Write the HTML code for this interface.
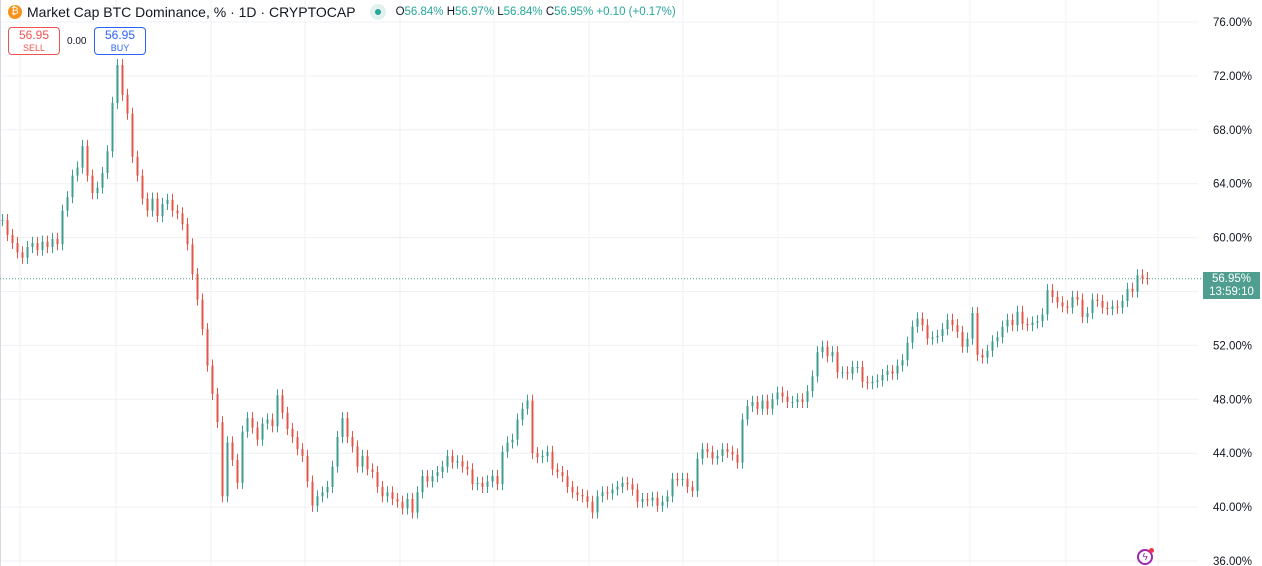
<!DOCTYPE html>
<html><head><meta charset="utf-8">
<style>
body{margin:0;width:1262px;height:566px;overflow:hidden;background:#fff;font-family:"Liberation Sans",sans-serif;position:relative}
.hdr{position:absolute;left:8px;top:4px;font-size:14px;color:#131722;display:flex;align-items:center;white-space:nowrap}
.coin{width:14px;height:14px;border-radius:50%;background:#f7931a;color:#fff;font-size:10px;text-align:center;line-height:14px;margin-right:5px}
.dot{display:inline-block;width:16px;height:16px;border-radius:50%;background:#e3f1ee;margin:0 10px 0 14px;position:relative}
.dot::after{content:"";position:absolute;left:5px;top:5px;width:6px;height:6px;border-radius:50%;background:#26a69a}
.ohlc{font-size:11.5px;color:#26a69a}
.ohlc b{font-weight:normal;color:#131722}
.btn{position:absolute;top:27px;height:28px;border-radius:4px;background:#fff;text-align:center;font-size:12px;line-height:13px;box-sizing:border-box;padding-top:1px}
.btn small{font-size:9px;display:block}
</style></head><body>
<svg id="chart" width="1262" height="566" style="position:absolute;left:0;top:0"></svg>
<div class="hdr"><span class="coin">₿</span>Market Cap BTC Dominance, % · 1D · CRYPTOCAP<span class="dot"></span><span class="ohlc"><b>O</b>56.84% <b>H</b>56.97% <b>L</b>56.84% <b>C</b>56.95% +0.10 (+0.17%)</span></div>
<div class="btn" style="left:8px;width:52px;border:1px solid #ef5350;color:#ef5350">56.95<small>SELL</small></div>
<div style="position:absolute;left:67px;top:36px;font-size:10px;color:#131722">0.00</div>
<div class="btn" style="left:94px;width:52px;border:1px solid #2962ff;color:#2962ff">56.95<small>BUY</small></div>
<div style="position:absolute;left:1203px;top:272px;width:57px;height:27px;background:#4f9e8f;color:#fff;font-size:11.5px;text-align:center;line-height:13px;padding-top:1px;box-sizing:border-box">56.95%<br>13:59:10</div>
<script>
const closes=[61.3,60.2,59.6,58.9,58.5,59.3,59.6,59.1,59.7,59.3,59.9,59.5,62.0,63.0,64.6,65.2,66.8,64.6,63.3,63.7,64.8,66.4,70.0,72.8,70.6,69.2,66.0,64.6,62.9,62.0,62.9,61.6,62.5,62.8,62.0,61.8,61.0,59.5,57.3,55.4,53.2,50.5,48.4,46.3,40.8,44.8,43.5,41.8,45.6,46.6,45.9,45.0,46.2,46.5,46.0,48.3,47.0,45.8,45.2,44.3,43.8,41.9,40.1,40.8,41.1,41.5,43.0,45.2,46.6,45.2,44.5,43.0,43.8,42.8,42.6,41.5,40.8,41.1,40.6,40.4,39.9,40.6,39.6,41.1,42.3,41.9,42.3,42.6,43.0,43.8,43.3,43.4,43.0,42.8,41.7,41.8,41.5,41.9,42.3,41.7,44.1,44.8,45.0,46.5,47.3,47.9,44.0,43.7,43.8,44.1,42.8,42.6,42.3,41.5,41.1,40.9,40.8,40.4,39.6,40.8,41.1,41.0,41.3,41.5,41.8,41.7,41.3,40.4,40.6,40.5,40.7,40.1,40.4,40.8,42.1,42.0,42.1,41.5,41.2,43.6,44.3,44.1,43.6,43.8,44.3,44.1,43.9,43.3,46.5,47.5,47.8,47.3,47.9,47.3,48.0,48.5,48.2,47.8,47.8,48.0,47.8,48.6,49.7,51.5,51.9,51.2,51.5,50.0,50.0,49.9,50.4,50.4,49.3,49.2,49.3,49.4,49.8,50.1,49.9,50.5,50.9,52.2,53.4,54.0,53.5,52.5,52.6,52.7,53.2,53.9,53.5,53.0,51.9,52.5,54.4,51.3,51.1,51.6,52.3,52.6,53.4,53.9,53.5,54.5,53.6,53.5,53.7,53.8,54.3,56.1,55.6,55.2,54.9,54.8,55.6,55.4,54.1,54.4,55.4,55.3,54.8,54.7,54.9,54.8,55.3,56.2,56.0,57.2,57.0,56.95];
const yTicks=[76,72,68,64,60,56,52,48,44,40,36];
const lastPrice=56.95;
const NS="http://www.w3.org/2000/svg";
const svg=document.getElementById('chart');
function y(v){return 22+(76-v)*13.475;}
function x(i){return 2+i*5;}
function mk(t,a){const e=document.createElementNS(NS,t);for(const k in a)e.setAttribute(k,a[k]);svg.appendChild(e);return e;}
const vgrid=[20,116,211,305,400,494,589,683,778,874,970,1066,1158];
vgrid.forEach(gx=>{const l=mk('line',{x1:gx,x2:gx,y1:0,y2:566,stroke:'#eef0f3','stroke-width':1});

});
yTicks.forEach(v=>{const l=mk('line',{x1:0,x2:1198,y1:y(v),y2:y(v),stroke:'#eef0f3','stroke-width':1});


const t=mk('text',{x:1252,y:y(v)+4,'text-anchor':'end','font-size':'11.5','fill':'#131722','font-family':'Liberation Sans, sans-serif'});
t.textContent=v.toFixed(2)+'%';

});
mk('line',{x1:0.5,x2:0.5,y1:0,y2:566,stroke:'#d6d8e6'});
const pl=mk('line',{x1:0,x2:1203,y1:y(lastPrice),y2:y(lastPrice),stroke:'#4f9e8f','stroke-width':1,'stroke-dasharray':'1 2'});


for(let i=0;i<closes.length;i++){
 const c=closes[i],o=i?closes[i-1]:c;
 const up=c>=o,col=up?'#3f9d8d':'#e3574b';
 const hi=Math.max(o,c)+0.45,lo=Math.min(o,c)-0.45;
 const w=mk('line',{x1:x(i)+0.5,x2:x(i)+0.5,y1:y(hi),y2:y(lo),stroke:col,'stroke-width':1});
 
 
 const top=y(Math.max(o,c)),h=Math.max(1,Math.abs(y(o)-y(c)));
 const b=mk('rect',{x:x(i)-0.5,y:top,width:2,height:h,fill:col});
 
 
}
</script>
<div style="position:absolute;left:1137px;top:549px;width:16px;height:16px;border:2px solid #9c27b0;border-radius:50%;box-sizing:border-box;color:#9c27b0;font-size:10px;text-align:center;line-height:13px">ϟ<span style="position:absolute;right:-3px;top:-3px;width:5px;height:5px;background:#f23645;border-radius:50%"></span></div>
</body></html>
